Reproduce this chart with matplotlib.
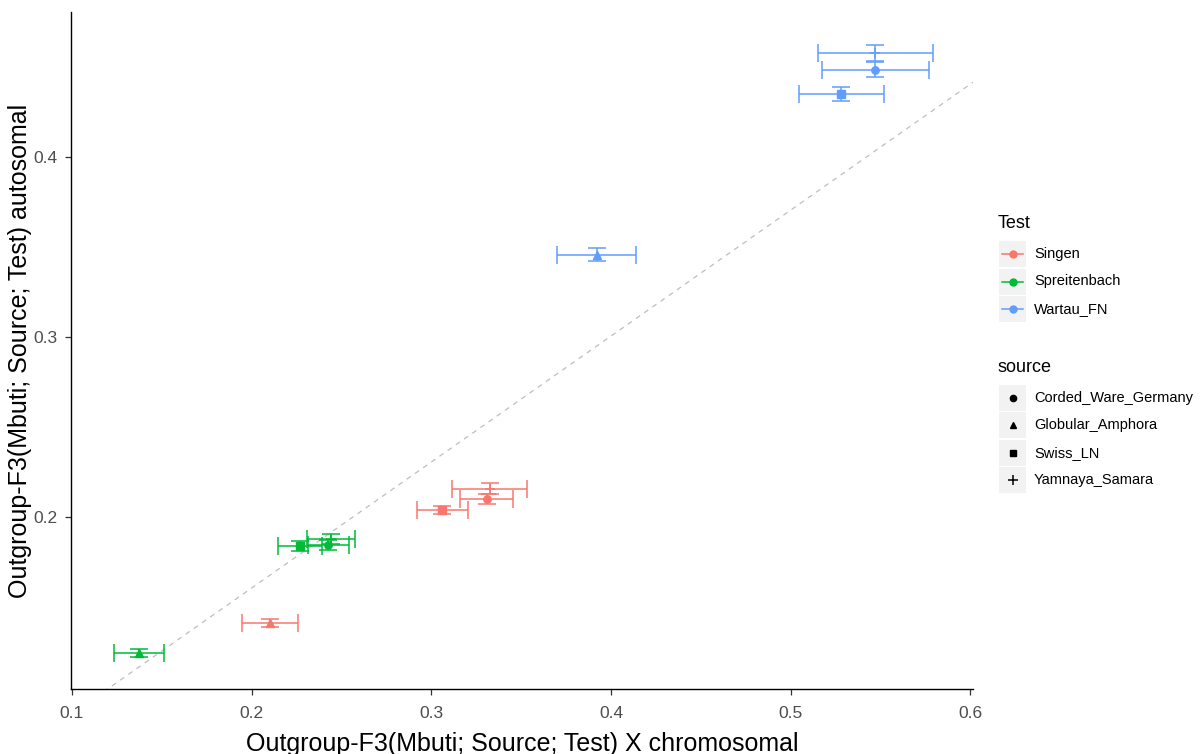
import numpy as np
from matplotlib import pyplot as plt
from matplotlib.patches import Rectangle
from matplotlib.lines import Line2D

# ------------------------------- #
# Outgroup F3: X chromosome vs autosomes
# ------------------------------- #

tests = ["Singen", "Spreitenbach", "Wartau_FN"]
test_colors = ["#F8766D", "#00BA38", "#619CFF"]
sources = ["Corded_Ware_Germany", "Globular_Amphora", "Swiss_LN", "Yamnaya_Samara"]
source_markers = ["o", "^", "s", "+"]

# values per test, in the order of sources
x_singen = [0.3309, 0.2103, 0.3061, 0.3326]
xse_singen = [0.0148, 0.0156, 0.0142, 0.0209]
y_singen = [0.2100, 0.1411, 0.2039, 0.2158]
yse_singen = [0.0027, 0.0022, 0.0022, 0.0028]

x_spreit = [0.2426, 0.1373, 0.2270, 0.2443]
xse_spreit = [0.0114, 0.0139, 0.0123, 0.0134]
y_spreit = [0.1844, 0.1244, 0.1839, 0.1878]
yse_spreit = [0.0030, 0.0022, 0.0028, 0.0030]

x_wartau = [0.5471, 0.3922, 0.5281, 0.5471]
xse_wartau = [0.0298, 0.0220, 0.0237, 0.0320]
y_wartau = [0.4486, 0.3458, 0.4350, 0.4578]
yse_wartau = [0.0042, 0.0036, 0.0039, 0.0044]

# dashed reference line
line_slope = 0.70
line_intercept = 0.0205

x_ticks = [0.1, 0.2, 0.3, 0.4, 0.5, 0.6]
y_ticks = [0.2, 0.3, 0.4]

all_x = [x_singen, x_spreit, x_wartau]
all_xse = [xse_singen, xse_spreit, xse_wartau]
all_y = [y_singen, y_spreit, y_wartau]
all_yse = [yse_singen, yse_spreit, yse_wartau]

plt.rcParams['font.family'] = ['Liberation Sans', 'DejaVu Sans']

fig = plt.figure(figsize=(12.03, 7.54), dpi=100)
ax = fig.add_axes([71/1203, 1 - 689/754, (973 - 71)/1203, (689 - 12)/754])

# reference line
xl = np.array([0.0995, 0.6015])
ax.plot(xl, line_slope*xl + line_intercept, color="#BEBEBE", lw=0.9,
        linestyle=(0, (4, 4)), zorder=1)

# error bars and points
for ti in range(len(tests)):
    col = test_colors[ti]
    for si in range(len(sources)):
        xv = all_x[ti][si]
        yv = all_y[ti][si]
        ax.errorbar(xv, yv, xerr=all_xse[ti][si], fmt="none", ecolor=col,
                    elinewidth=1.1, capsize=6.5, capthick=1.1, zorder=2)
        ax.errorbar(xv, yv, yerr=all_yse[ti][si], fmt="none", ecolor=col,
                    elinewidth=1.1, capsize=6.5, capthick=1.1, zorder=2)
        m = source_markers[si]
        if m == "+":
            ax.plot(xv, yv, marker=m, color=col, markersize=7, mew=1.1,
                    linestyle="none", zorder=3)
        else:
            ax.plot(xv, yv, marker=m, color=col, markersize=5.3,
                    linestyle="none", zorder=3)

ax.set_xlim(0.0995, 0.6015)
ax.set_ylim(0.1044, 0.4806)
ax.set_xticks(x_ticks)
ax.set_xticklabels([str(v) for v in x_ticks])
ax.set_yticks(y_ticks)
ax.set_yticklabels([str(v) for v in y_ticks])
for s in ["top", "right"]:
    ax.spines[s].set_visible(False)
for s in ["left", "bottom"]:
    ax.spines[s].set_linewidth(1.0)
    ax.spines[s].set_color("black")
ax.tick_params(direction="out", length=4, width=0.9, color="#333333",
               labelsize=12.5, labelcolor="#4D4D4D", pad=6)
ax.tick_params(axis="x", pad=8)
ax.set_xlabel("Outgroup-F3(Mbuti; Source; Test) X chromosomal", fontsize=18,
              labelpad=8)
ax.set_ylabel("Outgroup-F3(Mbuti; Source; Test) autosomal", fontsize=18,
              labelpad=1)

# ------------------------------- #
# legends drawn in pixel coordinates
# ------------------------------- #
lax = fig.add_axes([0, 0, 1, 1])
lax.set_xlim(0, 1203)
lax.set_ylim(754, 0)
lax.axis("off")

def legend_key(yc):
    lax.add_patch(Rectangle((999, yc - 13), 27, 26, facecolor="#F2F2F2",
                            edgecolor="none"))

lax.text(998, 224, "Test", fontsize=13, va="center", ha="left")
for i, name in enumerate(tests):
    yc = 254 + i*27.5
    legend_key(yc)
    lax.add_line(Line2D([1002, 1023], [yc, yc], color=test_colors[i], lw=1.1))
    lax.plot(1012.5, yc, marker="o", color=test_colors[i], markersize=5)
    lax.text(1034, yc, name, fontsize=10.5, va="center", ha="left", color="black")

lax.text(998, 368, "source", fontsize=13, va="center", ha="left")
for i, name in enumerate(sources):
    yc = 398 + i*27.3
    legend_key(yc)
    m = source_markers[i]
    if m == "+":
        lax.plot(1012.5, yc, marker=m, color="black", markersize=7, mew=1.1)
    else:
        lax.plot(1012.5, yc, marker=m, color="black", markersize=4.5)
    lax.text(1034, yc, name, fontsize=10.5, va="center", ha="left", color="black")

fig.savefig("out.png", dpi=100)
